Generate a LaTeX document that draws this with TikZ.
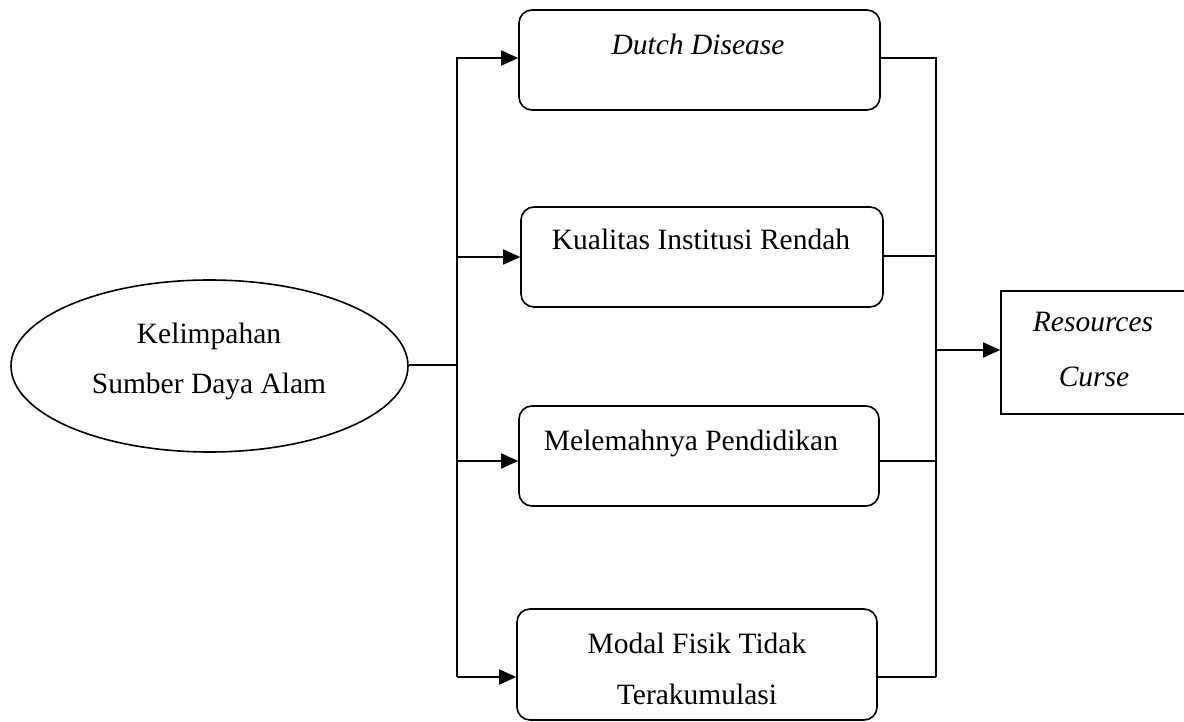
\documentclass[tikz,border=0pt]{standalone}
\usepackage{fontspec}
\setmainfont{Liberation Serif}
\usetikzlibrary{arrows.meta,shapes.geometric}
\tikzset{
  line/.style={line width=1.6pt,draw=black},
  arr/.style={line,-{Triangle[length=17pt,width=15pt]}},
  rbox/.style={line,rounded corners=13pt,inner sep=0pt,rectangle},
  sbox/.style={line,inner sep=0pt,rectangle},
  txt/.style={anchor=base,inner sep=0pt,font=\fontsize{29.5}{35}\selectfont},
  itxt/.style={txt,font=\fontsize{29.5}{35}\selectfont\itshape}
}
\begin{document}
\begin{tikzpicture}[x=1pt,y=-1pt]
\useasboundingbox (0,0) rectangle (1184,722);
% shapes
\node[line,ellipse,inner sep=0pt,minimum width=397pt,minimum height=172pt] (src) at (209.5,366) {};
\node[rbox,minimum width=361pt,minimum height=100pt] (b1) at (699.5,60) {};
\node[rbox,minimum width=362pt,minimum height=100pt] (b2) at (702,257) {};
\node[rbox,minimum width=360pt,minimum height=100pt] (b3) at (699,456) {};
\node[rbox,minimum width=360pt,minimum height=111pt] (b4) at (697,664.5) {};
\node[sbox,minimum width=190pt,minimum height=123pt] (rc) at (1096,352.5) {};
% texts
\node[txt] (t0a) at (209,343) {Kelimpahan};
\node[txt] (t0b) at (209,393) {Sumber Daya Alam};
\node[itxt] (t1) at (698,55) {Dutch Disease};
\node[txt] (t2) at (701,250) {Kualitas Institusi Rendah};
\node[txt] (t3) at (691,450) {Melemahnya Pendidikan};
\node[txt] (t4a) at (697,653) {Modal Fisik Tidak};
\node[txt] (t4b) at (697,704) {Terakumulasi};
\node[itxt] (t5a) at (1093,331) {Resources};
\node[itxt] (t5b) at (1094,386) {Curse};
% bus coordinates
\coordinate (lt) at (457,57);
\coordinate (lb) at (457,677);
\coordinate (lm) at (457,365);
\coordinate (l1) at (457,58);
\coordinate (l2) at (457,257);
\coordinate (l3) at (457,461);
\coordinate (l4) at (457,677);
\coordinate (rt) at (936,57);
\coordinate (rb) at (936,677);
\coordinate (r1) at (936,58);
\coordinate (r2) at (936,256);
\coordinate (r3) at (936,461);
\coordinate (r4) at (936,677);
\coordinate (ro) at (936,350);
% connectors
\draw[line] (lm -| src.east) -- (lm);
\draw[line] (lt) -- (lb);
\draw[arr] (l1) -- (l1 -| b1.west);
\draw[arr] (l2) -- (l2 -| b2.west);
\draw[arr] (l3) -- (l3 -| b3.west);
\draw[arr] (l4) -- (l4 -| b4.west);
\draw[line] (r1 -| b1.east) -- (r1);
\draw[line] (r2 -| b2.east) -- (r2);
\draw[line] (r3 -| b3.east) -- (r3);
\draw[line] (r4 -| b4.east) -- (r4);
\draw[line] (rt) -- (rb);
\draw[arr] (ro) -- (ro -| rc.west);
\end{tikzpicture}
\end{document}
